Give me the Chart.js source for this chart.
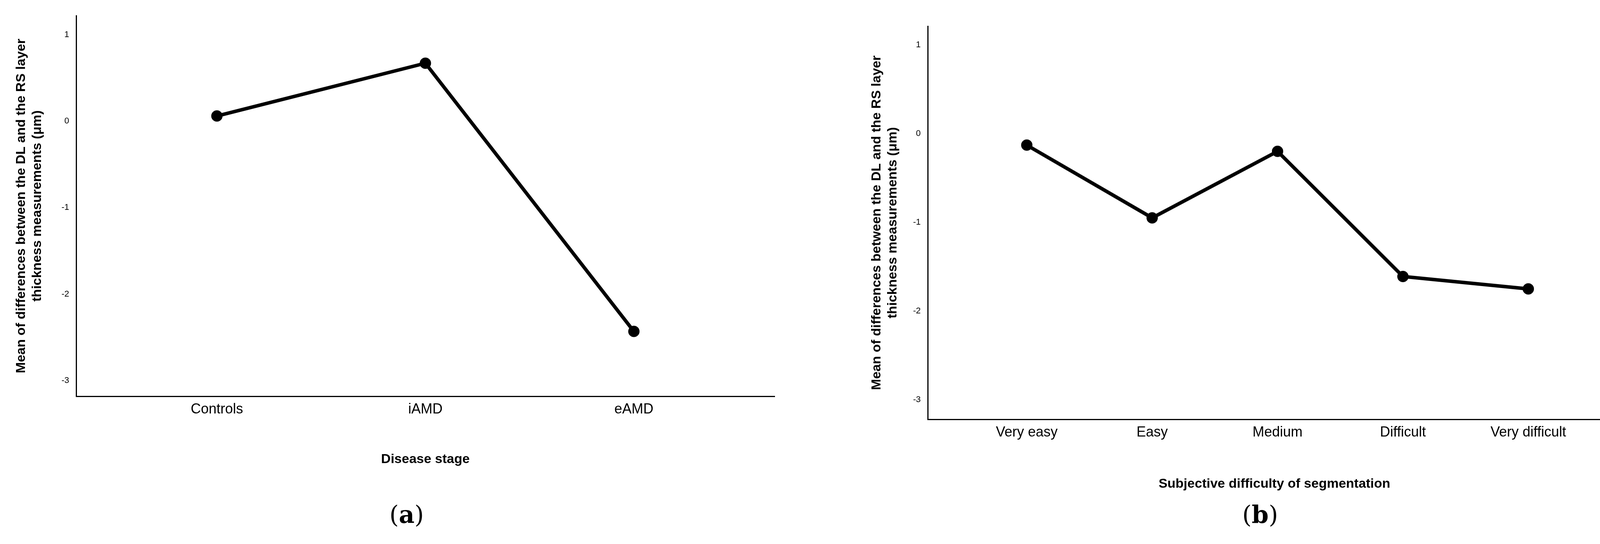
<!DOCTYPE html>
<html><head><meta charset="utf-8">
<script src="https://cdn.jsdelivr.net/npm/chart.js@4"></script>
<style>
body{margin:0;width:4185px;height:1392px;background:#fff;position:relative;overflow:hidden}
.c{position:absolute}
.lab{position:absolute;font-family:"DejaVu Serif","Liberation Serif",serif;font-size:62px;transform:translateX(-50%)}
.lab b{font-weight:bold}
</style></head><body>
<div class="c" style="left:0;top:0;width:2090px;height:1200px"><canvas id="a"></canvas></div>
<div class="c" style="left:2200px;top:0;width:1985px;height:1263px"><canvas id="b"></canvas></div>
<div class="lab" style="left:1041px;top:1280px">(<b>a</b>)</div>
<div class="lab" style="left:3226px;top:1280px">(<b>b</b>)</div>
<script>
const stageLabels = ["Controls","iAMD","eAMD"];
const stageValues = [0.06, 0.67, -2.43];
const diffLabels = ["Very easy","Easy","Medium","Difficult","Very difficult"];
const diffValues = [-0.13, -0.95, -0.2, -1.61, -1.75];
const yTicks = [1, 0, -1, -2, -3];
const yTitle = ["Mean of differences between the DL and the RS layer","thickness measurements (\u03bcm)"];

function make(id, labels, values, xTitle, xr, yr, yW, xH, pad){
  new Chart(document.getElementById(id), {
    type:'line',
    data:{datasets:[{data:values.map((v,i)=>({x:i,y:v})),borderColor:'#000',backgroundColor:'#000',
      borderWidth:9,pointRadius:10,pointHoverRadius:10,tension:0}]},
    options:{responsive:true,maintainAspectRatio:false,animation:false,
      layout:{padding:pad},
      plugins:{legend:{display:false},tooltip:{enabled:false}},
      scales:{
        x:{type:'linear',min:xr[0],max:xr[1],
          afterBuildTicks:s=>{s.ticks=labels.map((_,i)=>({value:i}));},
          afterFit:s=>{s.height=xH;},
          grid:{display:false,drawTicks:false},border:{color:'#000',width:3},
          ticks:{callback:v=>labels[v],color:'#000',font:{family:'Liberation Sans',size:36},padding:12,maxRotation:0,autoSkip:false},
          title:{display:true,text:xTitle,color:'#000',font:{family:'Liberation Sans',size:34,weight:'bold'},padding:{top:0}}},
        y:{min:yr[0],max:yr[1],
          afterBuildTicks:s=>{s.ticks=yTicks.map(v=>({value:v}));},
          afterFit:s=>{s.width=yW;},
          grid:{display:false,drawTicks:false},border:{color:'#000',width:3},
          ticks:{color:'#000',font:{family:'Liberation Sans',size:22},padding:18},
          title:{display:true,text:yTitle,color:'#000',font:{family:'Liberation Sans',size:34,weight:'bold'},padding:{bottom:0}}}
      }}
  });
}
make('a', stageLabels, stageValues, 'Disease stage', [-0.675,2.675], [-3.18,1.22], 165, 186, {top:40,right:107,left:30,bottom:0});
make('b', diffLabels, diffValues, 'Subjective difficulty of segmentation', [-0.79,4.74], [-3.22,1.21], 155, 190, {top:67,right:35,left:20,bottom:0});
</script></body></html>
